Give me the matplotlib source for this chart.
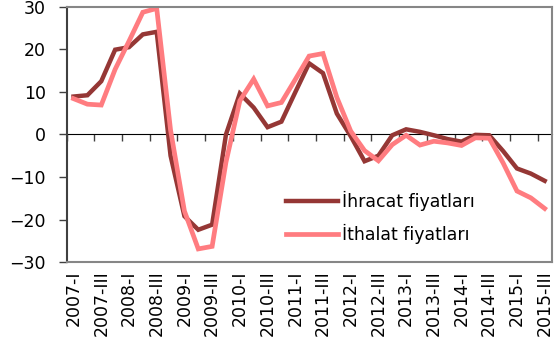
import numpy as np
import matplotlib
matplotlib.use('Agg')
import matplotlib.pyplot as plt

# Quarterly data, annual % change
years = range(2007, 2016)
romans = ['I', 'II', 'III', 'IV']
quarters = [f'{y}-{q}' for y in years for q in romans][:35]

ihracat = [8.9, 9.2, 12.5, 19.9, 20.5, 23.5, 24.1, -5.0, -19.2, -22.4, -21.2, 0.0,
           9.6, 6.3, 1.7, 3.0, 9.9, 16.7, 14.4, 4.9, -0.4, -6.3, -5.0, -0.2,
           1.2, 0.6, -0.2, -1.1, -1.7, -0.1, -0.2, -3.9, -8.0, -9.2, -10.9]
ithalat = [8.4, 7.1, 6.9, 15.3, 21.9, 28.7, 29.6, 1.0, -18.0, -26.9, -26.3, -6.5,
           7.9, 13.0, 6.7, 7.5, 12.9, 18.4, 19.0, 8.7, 0.8, -3.8, -6.2, -2.4,
           -0.2, -2.5, -1.6, -2.0, -2.6, -0.8, -0.9, -6.7, -13.3, -14.9, -17.4]

dark = '#953735'
light = '#FF7C80'
grey = '#868686'

plt.rcParams['font.family'] = ['DejaVu Sans']
fig = plt.figure(figsize=(5.6, 3.44), dpi=100)
ax = fig.add_axes([0.119, 0.238, 0.866, 0.7425])

x = np.arange(len(quarters))
ax.plot(x, ihracat, color=dark, lw=3.2, label='İhracat fiyatları', solid_joinstyle='miter')
ax.plot(x, ithalat, color=light, lw=3.4, label='İthalat fiyatları', solid_joinstyle='miter')

ax.set_xlim(-0.5, len(quarters) - 0.5)
ax.set_ylim(-30, 30)
ax.set_yticks(range(-30, 31, 10))
ax.tick_params(axis='y', labelsize=12.5, length=6, width=1, color='#404040', pad=9)

ax.set_xticks(x[::2])
ax.set_xticklabels(quarters[::2], rotation=90, fontsize=12.5)
ax.tick_params(axis='x', length=0, pad=6)

for s in ['top', 'right', 'bottom']:
    ax.spines[s].set_color(grey)
    ax.spines[s].set_linewidth(1.5)
ax.spines['left'].set_color('#404040')
ax.spines['left'].set_linewidth(1.5)

# category axis crossing at zero
sec = ax.secondary_xaxis(0.5)
sec.set_xticks(np.arange(-0.5, len(quarters), 2))
sec.xaxis.set_ticks_position('bottom')
sec.tick_params(axis='x', length=5, width=1, color='#404040', direction='out',
                labelbottom=False, labeltop=False)
sec.spines['bottom'].set_color(grey)
sec.spines['bottom'].set_linewidth(1.5)

leg = ax.legend(loc='lower left', bbox_to_anchor=(0.42, 0.01), frameon=False,
                fontsize=12.5, handlelength=3.0, handletextpad=0.2, labelspacing=0.75)

fig.savefig('out.png', dpi=100)
